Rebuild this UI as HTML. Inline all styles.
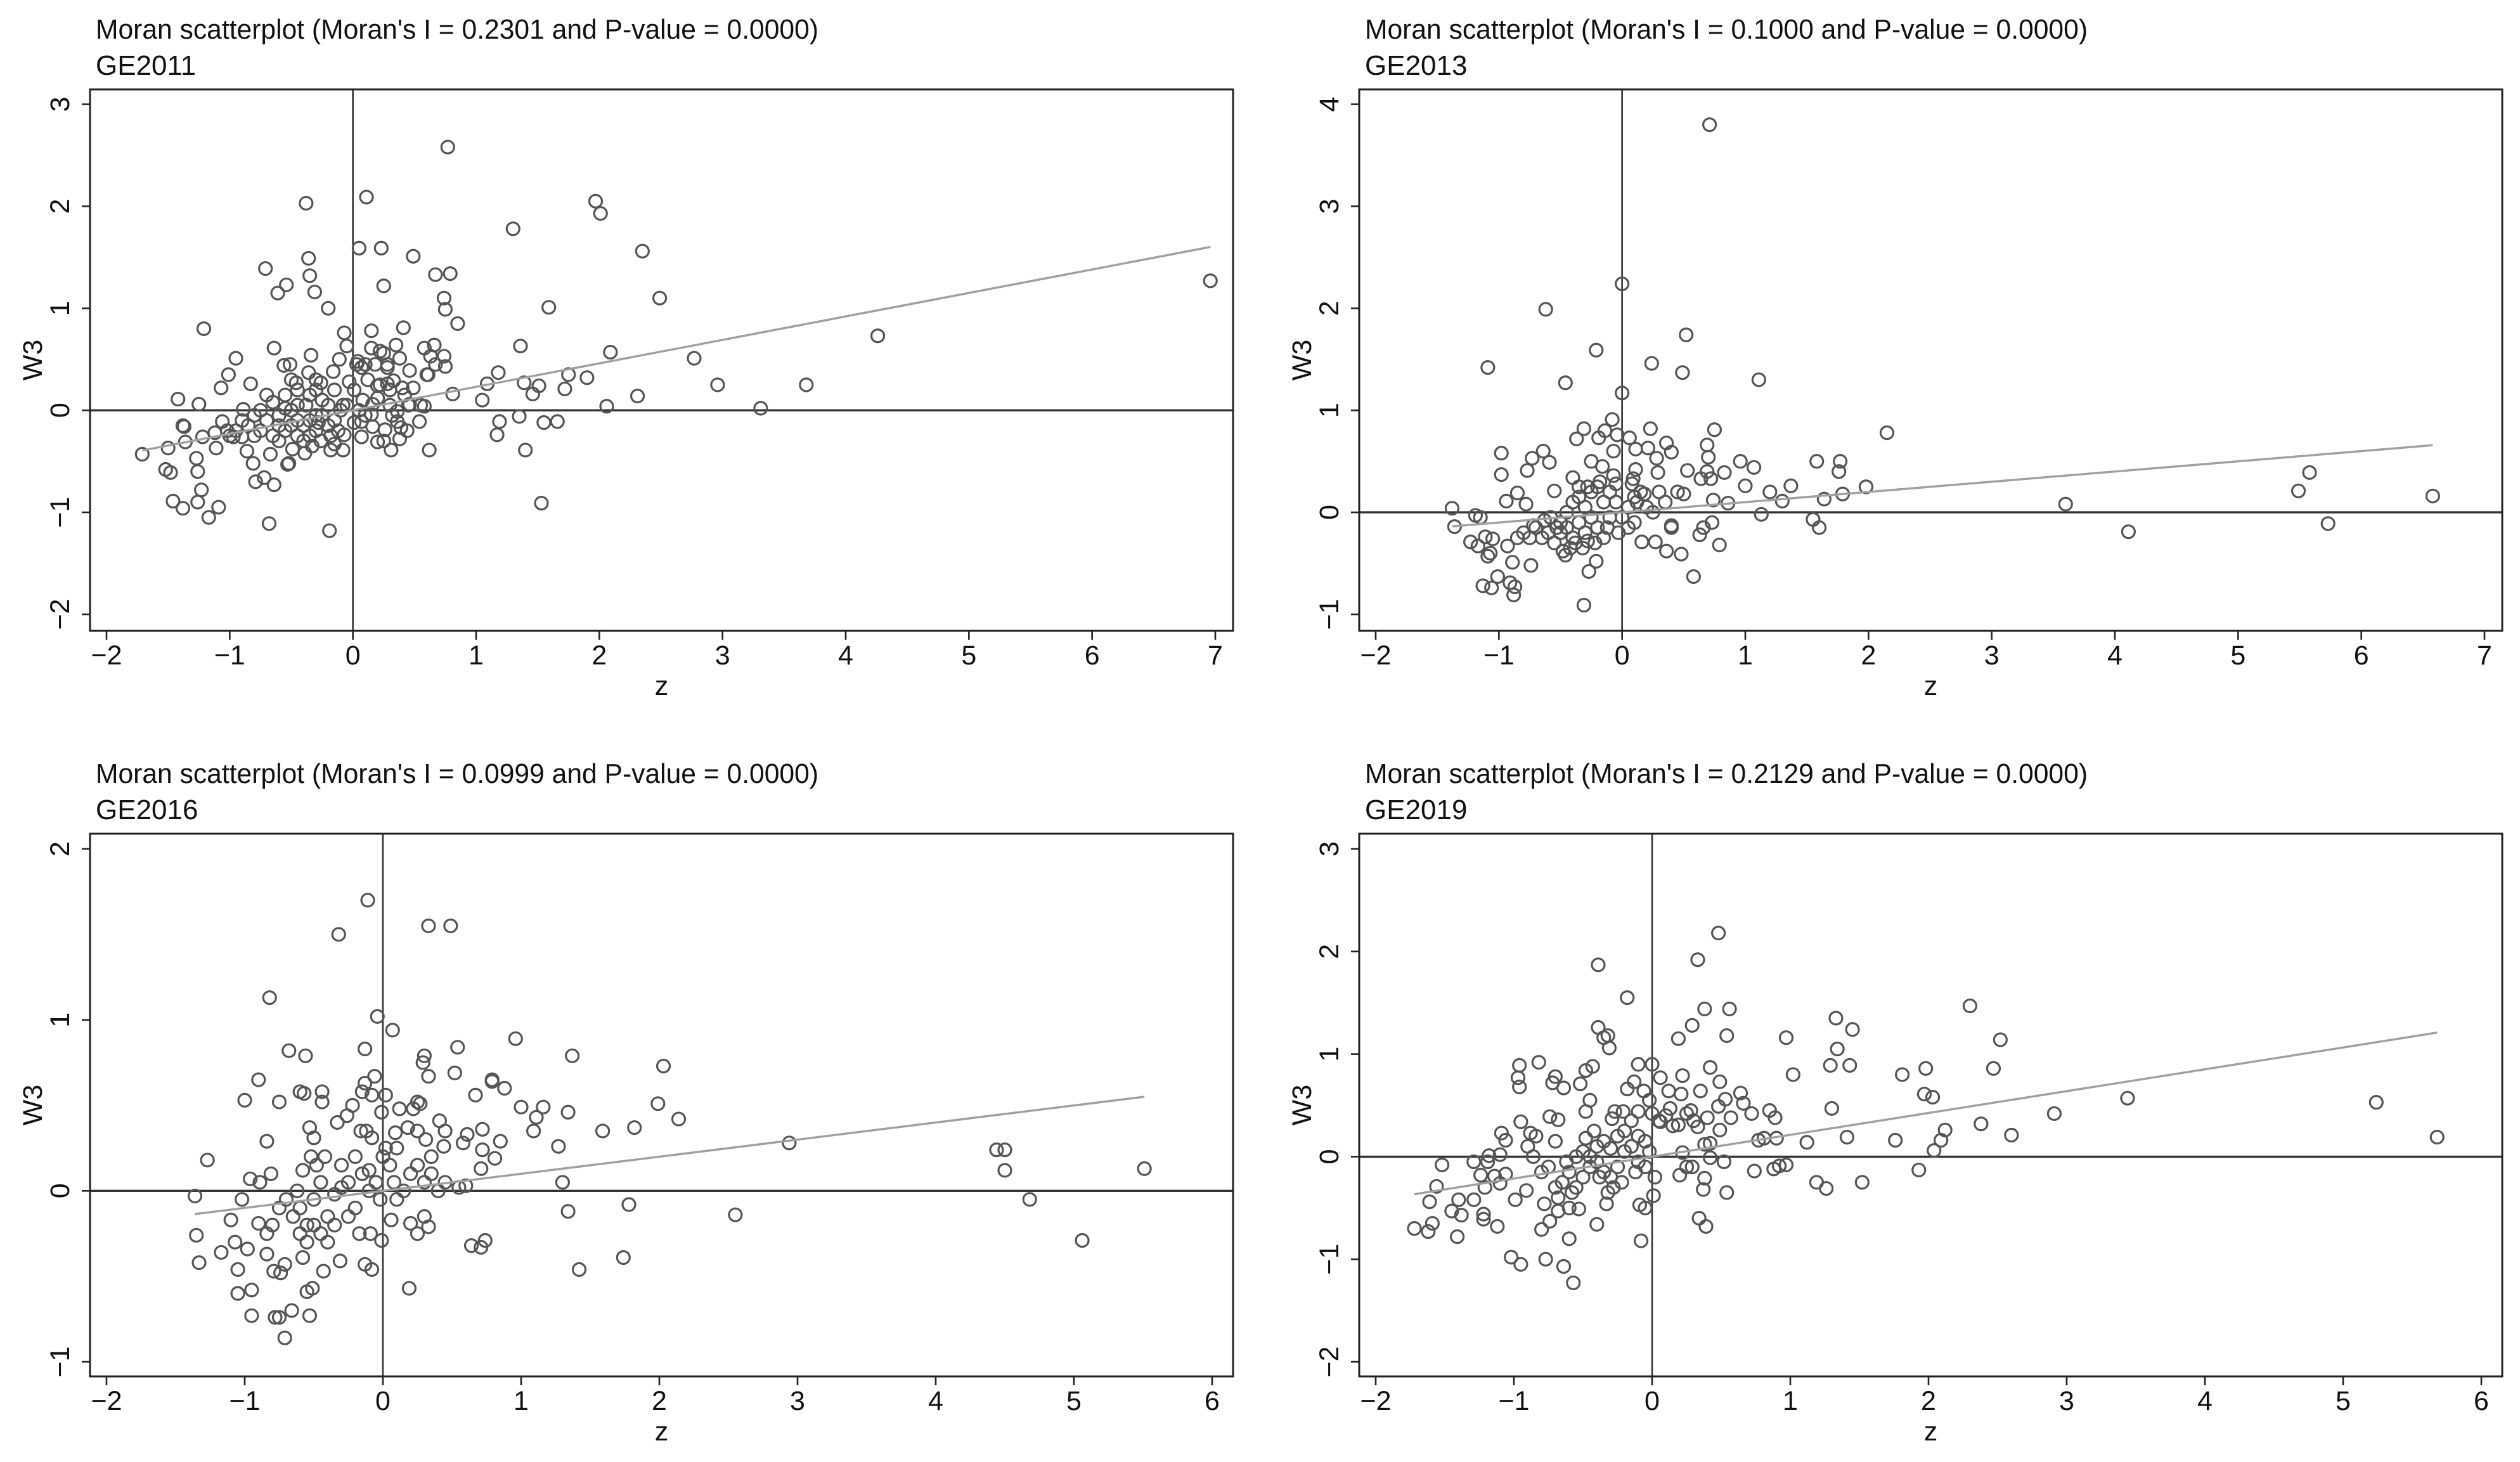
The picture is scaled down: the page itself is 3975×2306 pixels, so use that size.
<!DOCTYPE html>
<html><head><meta charset="utf-8"><title>Moran scatterplots</title>
<style>
html,body{margin:0;padding:0;background:#fff;}
svg{display:block;}
text{font-family:"Liberation Sans",Arial,sans-serif;fill:#111;}
</style></head>
<body>
<svg id="chart" xmlns="http://www.w3.org/2000/svg" width="3975" height="2306" viewBox="0 0 3975 2306"></svg>
<script>
// ---------- DATA ----------
const ge2011Title = "Moran scatterplot (Moran's I = 0.2301 and P-value = 0.0000)";
const ge2011Slope = 0.2301;
const ge2011XTicks = [-2,-1,0,1,2,3,4,5,6,7];
const ge2011YTicks = [-2,-1,0,1,2,3];
const ge2011Points = [
[0.77,2.58],[-0.38,2.03],[0.11,2.09],[1.97,2.05],[2.01,1.93],[1.30,1.78],[2.35,1.56],[0.05,1.59],[0.23,1.59],[0.49,1.51],
[-0.36,1.49],[0.67,1.33],[0.79,1.34],[-0.35,1.32],[-0.71,1.39],[-0.54,1.23],[-0.61,1.15],[-0.31,1.16],[0.25,1.22],[0.74,1.10],
[0.75,0.99],[2.49,1.10],[1.59,1.01],[-0.20,1.00],[0.85,0.85],[-1.21,0.80],[6.96,1.27],[4.26,0.73],[0.41,0.81],[0.15,0.78],
[-0.07,0.76],[1.36,0.63],[2.09,0.57],[2.77,0.51],[2.96,0.25],[3.68,0.25],[3.31,0.02],[2.06,0.04],[2.31,0.14],[1.90,0.32],
[1.75,0.35],[1.72,0.21],[1.51,0.24],[1.39,0.27],[1.46,0.16],[1.18,0.37],[1.09,0.26],[1.05,0.10],[0.81,0.16],[1.35,-0.06],
[1.19,-0.11],[1.17,-0.24],[1.55,-0.12],[1.66,-0.11],[1.40,-0.39],[1.53,-0.91],[0.62,-0.39],[-0.19,-1.18],[-0.68,-1.11],[-1.17,-1.05],
[-1.09,-0.95],[-1.38,-0.96],[-1.46,-0.89],[-1.26,-0.90],[-1.23,-0.78],[-1.48,-0.61],[-1.52,-0.58],[-1.26,-0.60],[-1.71,-0.43],[-1.50,-0.37],
[-1.27,-0.47],[-1.42,0.11],[-1.25,0.06],[-1.38,-0.15],[-1.37,-0.16],[-1.36,-0.31],[-1.11,-0.37],[-1.22,-0.26],[-1.12,-0.22],[-1.06,-0.11],
[-1.07,0.22],[-1.01,0.35],[-0.95,0.51],[-0.83,0.26],[-0.64,0.61],[-0.79,-0.70],[-0.72,-0.66],[-0.64,-0.73],[-0.67,-0.43],[-0.81,-0.52],
[-0.53,-0.53],[-0.89,0.01],[-0.86,-0.40],[-0.90,-0.26],[-0.97,-0.26],[-1.02,-0.20],[0.63,0.53],[0.58,0.61],[0.66,0.64],[0.74,0.53],
[0.67,0.45],[0.75,0.43],[0.61,0.35],[0.46,0.39],[0.35,0.64],[0.38,0.51],[0.15,0.61],[0.22,0.58],[0.25,0.56],[0.04,0.48],
[0.07,0.42],[-0.05,0.63],[-0.11,0.50],[-0.03,0.28],[-0.16,0.38],[-0.34,0.54],[-0.51,0.45],[-0.56,0.44],[-0.36,0.37],[-0.26,0.27],
[-0.46,0.27],[-0.15,0.20],[-0.30,0.20],[0.01,0.20],[0.20,0.24],[0.28,0.26],[0.33,0.29],[0.49,0.22],[0.42,0.15],[0.20,0.12],
[0.16,0.06],[0.30,0.05],[0.46,0.06],[0.58,0.04],[0.36,-0.01],[0.15,-0.04],[0.07,-0.11],[0.01,-0.12],[0.16,-0.16],[0.26,-0.19],
[0.36,-0.11],[0.39,-0.17],[0.54,-0.11],[0.38,-0.28],[0.31,-0.39],[0.20,-0.31],[0.07,-0.26],[-0.07,-0.24],[-0.08,-0.39],[-0.18,-0.39],
[-0.15,-0.33],[-0.26,-0.30],[-0.33,-0.35],[-0.39,-0.42],[-0.49,-0.38],[-0.52,-0.52],
[-0.6,-0.05],[-0.55,0.02],[-0.5,0.0],[-0.45,-0.1],[-0.4,-0.15],[-0.35,-0.1],[-0.3,-0.2],[-0.25,-0.05],[-0.2,-0.15],[-0.15,-0.1],
[-0.1,0.0],[-0.05,0.05],[-0.7,-0.1],[-0.75,-0.2],[-0.8,-0.25],[-0.85,-0.15],[-0.65,-0.25],[-0.6,-0.3],[-0.55,-0.2],[-0.5,-0.15],
[-0.45,-0.25],[-0.4,-0.3],[-0.35,-0.25],[-0.3,-0.05],[-0.25,0.1],[-0.2,0.05],[-0.55,0.15],[-0.45,0.2],[-0.35,0.15],[-0.3,0.3],
[-0.5,0.3],[-0.65,0.08],[-0.7,0.15],[-0.75,0.0],[-0.8,-0.05],[-0.9,-0.1],[-0.95,-0.2],[-1.0,-0.25],[-0.6,-0.15],[-0.45,0.05],
[-0.38,0.05],[-0.28,-0.12],[-0.18,-0.25],[-0.12,-0.2],[-0.08,0.05],[0.05,0.0],[0.1,-0.05],[0.03,0.45],[0.1,0.45],[0.28,0.45],
[0.3,0.2],[0.22,0.25],[0.12,0.3],[0.4,0.22],[0.45,0.05],[0.55,0.05],[0.32,-0.05],[0.44,-0.2],[0.25,-0.3],[0.6,0.35],
[0.08,0.1],[0.18,0.45],[0.28,0.42]
];

const ge2013Title = "Moran scatterplot (Moran's I = 0.1000 and P-value = 0.0000)";
const ge2013Slope = 0.1000;
const ge2013XTicks = [-2,-1,0,1,2,3,4,5,6,7];
const ge2013YTicks = [-1,0,1,2,3,4];
const ge2013Points = [
[0.71,3.80],[0.0,2.24],[-0.62,1.99],[0.52,1.74],[-0.21,1.59],[-1.09,1.42],[0.24,1.46],[0.49,1.37],[1.11,1.30],[-0.46,1.27],
[0.0,1.17],[2.15,0.78],[0.75,0.81],[-0.08,0.91],[0.23,0.82],[-0.31,0.82],[-0.14,0.80],[-0.04,0.76],[0.06,0.73],[-0.37,0.72],
[-0.19,0.73],[0.36,0.68],[0.69,0.66],[-0.64,0.60],[-0.98,0.58],[-0.07,0.60],[0.11,0.62],[0.21,0.63],[0.40,0.59],[0.28,0.53],
[-0.73,0.53],[-0.59,0.49],[-0.25,0.50],[-0.16,0.45],[0.70,0.54],[0.96,0.50],[1.07,0.44],[1.58,0.50],[1.77,0.50],[1.76,0.40],
[0.83,0.39],[0.53,0.41],[0.69,0.40],[-0.98,0.37],[-0.77,0.41],[-0.40,0.34],[-0.07,0.36],[0.09,0.33],[0.29,0.39],[0.11,0.42],
[0.64,0.33],[0.72,0.33],[1.00,0.26],[1.20,0.20],[1.37,0.26],[1.98,0.25],[1.79,0.18],[1.64,0.13],[1.30,0.11],[0.86,0.09],
[0.74,0.12],[5.49,0.21],[5.58,0.39],[6.58,0.16],[3.60,0.08],[5.73,-0.11],[4.11,-0.19],[1.13,-0.02],[1.55,-0.07],[1.60,-0.15],
[0.73,-0.10],[0.79,-0.32],[0.66,-0.15],[0.63,-0.22],[0.58,-0.63],[0.48,-0.41],[0.36,-0.38],[0.27,-0.29],[0.16,-0.29],[0.40,-0.13],
[-0.31,-0.91],[-0.27,-0.58],[-0.21,-0.48],[-0.46,-0.42],[-0.88,-0.81],[-0.87,-0.73],[-0.91,-0.69],[-1.01,-0.63],[-1.06,-0.74],[-1.13,-0.72],
[-0.89,-0.49],[-0.74,-0.52],[-1.07,-0.40],[-1.09,-0.43],[-1.05,-0.26],[-1.11,-0.24],[-1.23,-0.29],[-1.17,-0.33],[-0.93,-0.33],[-1.38,0.04],
[-1.36,-0.14],[-1.19,-0.03],[-1.15,-0.05],[-0.94,0.11],[-0.85,0.19],[-0.78,0.08],[-0.55,0.21],[-0.63,-0.08],[-0.72,-0.13],
[-0.5,-0.2],[-0.45,-0.15],[-0.4,-0.25],[-0.35,-0.1],[-0.3,-0.2],[-0.25,-0.05],[-0.2,-0.15],[-0.15,-0.25],[-0.1,-0.05],[-0.05,0.1],
[0.0,-0.05],[0.05,0.05],[0.1,0.15],[0.15,0.2],[0.12,0.1],[0.2,0.05],[-0.55,-0.3],[-0.5,-0.1],[-0.45,0.0],[-0.4,0.1],
[-0.35,0.15],[-0.3,0.05],[-0.25,0.2],[-0.2,0.25],[-0.15,0.1],[-0.1,0.2],[-0.6,-0.2],[-0.65,-0.25],[-0.7,-0.15],[-0.75,-0.25],
[-0.8,-0.2],[-0.85,-0.25],[-0.58,-0.05],[-0.42,-0.35],[-0.38,-0.3],[-0.32,-0.35],[-0.28,-0.28],[-0.22,-0.3],[-0.48,-0.38],[-0.53,-0.15],
[-0.12,-0.15],[-0.03,-0.2],[0.05,-0.15],[0.1,-0.1],[0.3,0.2],[0.35,0.1],[0.45,0.2],[0.5,0.18],[0.4,-0.15],[0.25,0.0],
[0.18,0.18],[0.08,0.28],[-0.18,0.3],[-0.28,0.25],[-0.35,0.25],[-0.05,0.28]
];

const ge2016Title = "Moran scatterplot (Moran's I = 0.0999 and P-value = 0.0000)";
const ge2016Slope = 0.0999;
const ge2016XTicks = [-2,-1,0,1,2,3,4,5,6];
const ge2016YTicks = [-1,0,1,2];
const ge2016Points = [
[-0.11,1.70],[0.33,1.55],[0.49,1.55],[-0.32,1.50],[-0.82,1.13],[-0.04,1.02],[0.07,0.94],[0.96,0.89],[0.54,0.84],[-0.13,0.83],
[-0.68,0.82],[-0.56,0.79],[0.30,0.79],[1.37,0.79],[2.03,0.73],[0.29,0.75],[0.33,0.67],[0.52,0.69],[-0.06,0.67],[0.79,0.65],
[0.79,0.64],[-0.90,0.65],[-0.13,0.63],[0.88,0.60],[-0.60,0.58],[-0.57,0.57],[-0.44,0.58],[-0.15,0.58],[0.02,0.56],[0.67,0.56],
[-1.00,0.53],[-0.75,0.52],[-0.44,0.52],[-0.08,0.56],[0.25,0.52],[0.27,0.51],[1.99,0.51],[-0.22,0.50],[0.12,0.48],[0.22,0.48],
[1.00,0.49],[1.16,0.49],[1.34,0.46],[-0.01,0.46],[-0.26,0.44],[1.11,0.43],[2.14,0.42],[0.41,0.41],[-0.33,0.40],[-0.53,0.37],
[0.18,0.37],[0.72,0.36],[0.45,0.35],[1.09,0.35],[1.59,0.35],[1.82,0.37],[-0.16,0.35],[0.09,0.34],[0.61,0.33],[-0.50,0.31],
[0.31,0.30],[0.85,0.29],[-0.84,0.29],[-0.08,0.31],[2.94,0.28],[1.27,0.26],[4.44,0.24],[4.50,0.24],[4.50,0.12],[5.51,0.13],
[0.72,0.24],[0.58,0.28],[0.44,0.26],[-1.27,0.18],[0.81,0.19],[0.71,0.13],[1.30,0.05],[4.68,-0.05],[5.06,-0.29],[2.55,-0.14],
[1.78,-0.08],[1.34,-0.12],[0.64,-0.32],[0.74,-0.29],[0.71,-0.33],[1.74,-0.39],[1.42,-0.46],[0.19,-0.57],[-0.08,-0.46],[-0.13,-0.43],
[-0.01,-0.29],[-0.09,-0.25],[-0.17,-0.25],[0.33,-0.21],[0.25,-0.25],[0.20,-0.19],[0.06,-0.17],[-0.31,-0.41],[-0.43,-0.47],[-0.51,-0.57],
[-0.55,-0.59],[-0.53,-0.73],[-0.66,-0.70],[-0.75,-0.74],[-0.78,-0.74],[-0.71,-0.86],[-0.95,-0.73],[-1.05,-0.60],[-0.95,-0.58],[-1.05,-0.46],
[-1.17,-0.36],[-1.33,-0.42],[-1.35,-0.26],[-1.36,-0.03],[-1.07,-0.30],[-1.10,-0.17],[-1.02,-0.05],[-0.96,0.07],[-0.81,0.10],[-0.89,0.05],
[-0.98,-0.34],[-0.84,-0.37],[-0.79,-0.47],[-0.74,-0.48],[-0.71,-0.43],[-0.58,-0.39],[-0.90,-0.19],[-0.84,-0.25],
[-0.6,-0.1],[-0.55,-0.2],[-0.5,-0.05],[-0.45,0.05],[-0.4,-0.15],[-0.35,-0.02],[-0.3,0.02],[-0.25,0.05],[-0.2,-0.1],[-0.15,0.1],
[-0.1,0.0],[-0.05,0.05],[0.0,0.2],[0.05,0.15],[0.1,0.25],[0.15,0.0],[0.2,0.1],[0.25,0.15],[0.3,0.05],[0.35,0.1],
[0.4,0.0],[-0.65,-0.15],[-0.6,-0.25],[-0.55,-0.3],[-0.5,-0.2],[-0.45,-0.25],[-0.4,-0.3],[-0.48,0.15],[-0.42,0.2],[-0.52,0.2],
[-0.58,0.12],[-0.7,-0.05],[-0.75,-0.1],[-0.8,-0.2],[-0.62,0.0],[-0.3,0.15],[-0.2,0.2],[-0.1,0.12],[-0.12,0.35],[0.02,0.25],
[0.08,0.05],[0.3,-0.15],[0.35,0.2],[0.45,0.05],[0.55,0.02],[0.6,0.03],[0.1,-0.05],[-0.02,-0.05],[-0.25,-0.15],[-0.35,-0.2],[0.25,0.35]
];

const ge2019Title = "Moran scatterplot (Moran's I = 0.2129 and P-value = 0.0000)";
const ge2019Slope = 0.2129;
const ge2019XTicks = [-2,-1,0,1,2,3,4,5,6];
const ge2019YTicks = [-2,-1,0,1,2,3];
const ge2019Points = [
[0.48,2.18],[0.33,1.92],[-0.39,1.87],[-0.18,1.55],[2.30,1.47],[0.38,1.44],[0.56,1.44],[1.33,1.35],[1.45,1.24],[0.29,1.28],
[-0.39,1.26],[-0.35,1.16],[-0.32,1.18],[0.19,1.15],[0.54,1.18],[0.97,1.16],[2.52,1.14],[1.34,1.05],[-0.31,1.06],[-0.82,0.92],
[-0.96,0.89],[-0.10,0.90],[0.00,0.90],[-0.43,0.88],[-0.48,0.84],[0.42,0.87],[1.29,0.89],[1.43,0.89],[1.98,0.86],[2.47,0.86],
[0.06,0.77],[0.22,0.79],[-0.70,0.78],[-0.72,0.72],[-0.97,0.77],[-0.96,0.68],[-0.52,0.71],[-0.64,0.67],[-0.13,0.73],[0.49,0.73],
[1.02,0.80],[1.81,0.80],[-0.18,0.66],[-0.06,0.64],[0.35,0.64],[0.12,0.64],[0.21,0.61],[0.64,0.62],[0.53,0.56],[3.44,0.57],
[5.24,0.53],[1.97,0.61],[2.03,0.58],[-0.45,0.55],[-0.02,0.55],[0.66,0.52],[0.48,0.49],[-0.48,0.44],[0.13,0.47],[0.72,0.42],
[0.85,0.45],[1.30,0.47],[2.91,0.42],[-0.74,0.39],[-0.27,0.44],[-0.21,0.44],[-0.10,0.44],[0.00,0.42],[0.28,0.45],[0.40,0.38],
[0.57,0.38],[0.89,0.38],[-0.95,0.34],[-0.68,0.36],[-0.29,0.37],[0.06,0.34],[0.19,0.31],[0.33,0.29],[2.38,0.32],[0.49,0.26],
[2.12,0.26],[-0.88,0.23],[-0.84,0.20],[-1.09,0.23],[-1.06,0.16],[2.60,0.21],[1.41,0.19],[1.76,0.16],[1.12,0.14],[0.77,0.16],
[0.81,0.18],[0.90,0.18],[2.09,0.16],[2.04,0.06],[-0.70,0.15],[-0.90,0.10],[-0.86,0.00],[-1.10,0.02],[-1.18,0.01],[-1.19,-0.05],
[-1.29,-0.05],[-1.52,-0.08],[-1.24,-0.18],[-1.06,-0.17],[-1.14,-0.19],[-1.10,-0.26],[-1.21,-0.30],[-1.56,-0.29],[-1.61,-0.44],[-1.40,-0.42],
[-1.29,-0.42],[-1.45,-0.53],[-1.38,-0.57],[-1.22,-0.56],[-1.22,-0.61],[-1.59,-0.65],[-1.62,-0.73],[-1.72,-0.70],[-1.41,-0.78],[-1.12,-0.68],
[-1.02,-0.98],[-0.95,-1.05],[-0.77,-1.00],[-0.64,-1.07],[-0.57,-1.23],[-0.60,-0.80],[-0.80,-0.71],[-0.74,-0.63],[-0.68,-0.53],[-0.78,-0.46],
[-0.99,-0.42],[-0.91,-0.33],[-0.53,-0.51],[-0.40,-0.66],[-0.60,-0.50],[-0.33,-0.46],[-0.08,-0.82],[-0.09,-0.47],[-0.05,-0.50],[0.01,-0.38],
[0.34,-0.60],[0.39,-0.68],[0.37,-0.32],[0.38,-0.21],[0.54,-0.35],[0.52,-0.05],[0.20,-0.18],[0.25,-0.10],[0.29,-0.10],[0.74,-0.14],
[0.88,-0.12],[0.92,-0.09],[0.97,-0.08],[1.19,-0.25],[1.26,-0.31],[1.52,-0.25],[1.93,-0.13],[0.42,-0.01],[0.22,0.04],[0.42,0.13],
[0.38,0.12],[5.68,0.19],
[-0.55,0.0],[-0.5,0.05],[-0.45,0.0],[-0.4,-0.05],[-0.35,-0.15],[-0.3,-0.2],[-0.25,-0.1],[-0.2,0.05],[-0.15,0.1],[-0.1,-0.05],
[-0.05,0.15],[-0.6,-0.15],[-0.65,-0.25],[-0.7,-0.3],[-0.55,-0.3],[-0.5,-0.2],[-0.45,-0.1],[-0.4,0.1],[-0.35,0.15],[-0.3,0.08],
[-0.25,0.2],[-0.2,0.25],[-0.15,0.35],[-0.1,0.2],[-0.62,-0.05],[-0.58,-0.35],[-0.48,0.18],[-0.42,0.25],[-0.32,-0.35],[-0.22,-0.25],
[-0.12,-0.15],[-0.05,-0.1],[-0.02,0.05],[0.05,0.35],[0.1,0.4],[0.15,0.3],[0.25,0.42],[0.3,0.35],[-0.68,-0.4],[-0.75,-0.1],
[-0.8,-0.15],[-0.38,-0.2],[-0.28,-0.3],[0.02,-0.2]
];

// ---------- LAYOUT ----------
const NS = "http://www.w3.org/2000/svg";
const svg = document.getElementById('chart');
function mk(tag, attrs, parent){
  const e = document.createElementNS(NS, tag);
  for (const k in attrs) e.setAttribute(k, attrs[k]);
  (parent||svg).appendChild(e);
  return e;
}

const panels = [
  {key:'ge2011', sub:'GE2011', title:ge2011Title, pts:ge2011Points, slope:ge2011Slope, xt:ge2011XTicks, yt:ge2011YTicks,
   left:142, top:141, right:1945, bottom:995, xmin:-2, xmax:7, ymin:-2, ymax:3, xpx0:168, xpx1:1917, ypx0:969, ypx1:164.5},
  {key:'ge2013', sub:'GE2013', title:ge2013Title, pts:ge2013Points, slope:ge2013Slope, xt:ge2013XTicks, yt:ge2013YTicks,
   left:2144, top:141, right:3947, bottom:995, xmin:-2, xmax:7, ymin:-1, ymax:4, xpx0:2170, xpx1:3919, ypx0:969, ypx1:164.5},
  {key:'ge2016', sub:'GE2016', title:ge2016Title, pts:ge2016Points, slope:ge2016Slope, xt:ge2016XTicks, yt:ge2016YTicks,
   left:142, top:1315, right:1945, bottom:2171, xmin:-2, xmax:6, ymin:-1, ymax:2, xpx0:168, xpx1:1912, ypx0:2148, ypx1:1339},
  {key:'ge2019', sub:'GE2019', title:ge2019Title, pts:ge2019Points, slope:ge2019Slope, xt:ge2019XTicks, yt:ge2019YTicks,
   left:2144, top:1315, right:3947, bottom:2171, xmin:-2, xmax:6, ymin:-2, ymax:3, xpx0:2170, xpx1:3914, ypx0:2148, ypx1:1339}
];

panels.forEach(p => {
  const g = mk('g', {});
  
  
  const sx = v => p.xpx0 + (v - p.xmin) * (p.xpx1 - p.xpx0) / (p.xmax - p.xmin);
  const sy = v => p.ypx0 + (v - p.ymin) * (p.ypx1 - p.ypx0) / (p.ymax - p.ymin);

  const t1 = mk('text', {x:p.left+9, y:p.top-80, 'font-size':44, textLength:1140, lengthAdjust:'spacingAndGlyphs'}, g);
  t1.textContent = p.title;
  
  
  const t2 = mk('text', {x:p.left+9, y:p.top-23, 'font-size':44}, g);
  t2.textContent = p.sub;
  
  

  // zero reference lines
  const vx = sx(0);
  const vl = mk('line', {x1:vx, y1:p.top, x2:vx, y2:p.bottom, stroke:'#333', 'stroke-width':2.6}, g);
  
  
  const hy = sy(0);
  const hl = mk('line', {x1:p.left, y1:hy, x2:p.right, y2:hy, stroke:'#333', 'stroke-width':3.4}, g);
  
  

  // points
  const pg = mk('g', {fill:'none', stroke:'#555555', 'stroke-width':3.2}, g);
  
  
  let zmin = Infinity, zmax = -Infinity;
  p.pts.forEach(d => {
    zmin = Math.min(zmin, d[0]); zmax = Math.max(zmax, d[0]);
    const c = mk('circle', {cx:sx(d[0]), cy:sy(d[1]), r:10}, pg);
    
    
  });

  // fit line
  const fl = mk('line', {x1:sx(zmin), y1:sy(p.slope*zmin), x2:sx(zmax), y2:sy(p.slope*zmax), stroke:'#a0a0a0', 'stroke-width':3.4}, g);
  
  

  // frame
  const fr = mk('rect', {x:p.left, y:p.top, width:p.right-p.left, height:p.bottom-p.top, fill:'none', stroke:'#222', 'stroke-width':3}, g);
  
  

  // x ticks
  p.xt.forEach(v => {
    const x = sx(v);
    const tk = mk('line', {x1:x, y1:p.bottom, x2:x, y2:p.bottom+14, stroke:'#222', 'stroke-width':2.6}, g);
    
    
    const tl = mk('text', {x:x, y:p.bottom+53, 'font-size':43, 'text-anchor':'middle'}, g);
    tl.textContent = v < 0 ? '\u2212' + Math.abs(v) : String(v);
    
    
  });
  // y ticks
  p.yt.forEach(v => {
    const y = sy(v);
    const tk = mk('line', {x1:p.left-13, y1:y, x2:p.left, y2:y, stroke:'#222', 'stroke-width':2.6}, g);
    
    
    const tl = mk('text', {x:0, y:0, 'font-size':43, 'text-anchor':'middle', transform:'translate(' + (p.left-33) + ',' + y + ') rotate(-90)'}, g);
    tl.textContent = v < 0 ? '\u2212' + Math.abs(v) : String(v);
    
    
  });
  // axis titles
  const xa = mk('text', {x:(p.left+p.right)/2, y:p.bottom+101, 'font-size':43, 'text-anchor':'middle'}, g);
  xa.textContent = 'z';
  
  
  const ya = mk('text', {x:0, y:0, 'font-size':43, 'text-anchor':'middle', transform:'translate(' + (p.left-76) + ',' + ((p.top+p.bottom)/2) + ') rotate(-90)'}, g);
  ya.textContent = 'W3';
  
  
});
</script>
</body></html>
